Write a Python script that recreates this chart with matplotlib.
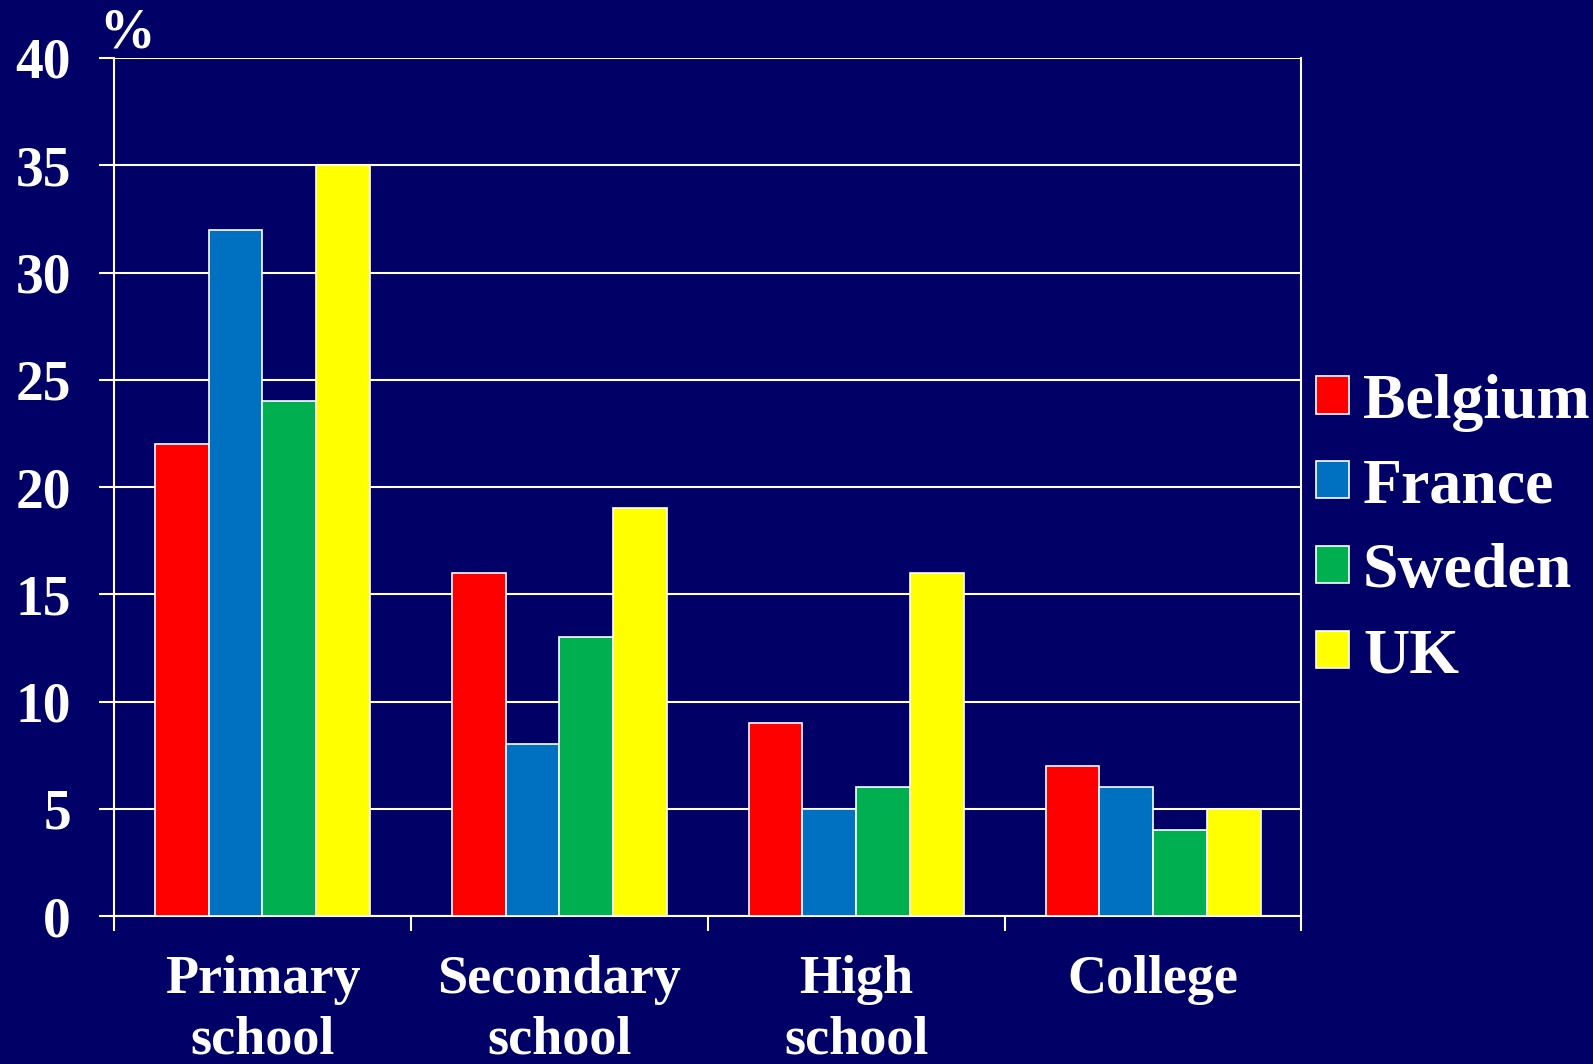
import matplotlib.pyplot as plt
import numpy as np

plt.rcParams['font.family'] = 'Liberation Serif'
plt.rcParams['font.weight'] = 'bold'

levels = ['Primary\nschool', 'Secondary\nschool', 'High\nschool', 'College']
countries = ['Belgium', 'France', 'Sweden', 'UK']
belgium = [22, 16, 9, 7]
france = [32, 8, 5, 6]
sweden = [24, 13, 6, 4]
uk = [35, 19, 16, 5]
colors = ['#FF0000', '#0070C0', '#00B050', '#FFFF00']

bg = '#000066'
fig = plt.figure(figsize=(15.93, 10.64), dpi=100, facecolor=bg)
ax = fig.add_axes([0.0716, 0.139, 0.7454, 0.8065], facecolor=bg)

x = np.arange(len(levels))
w = 0.181
for i, (vals, name) in enumerate(zip([belgium, france, sweden, uk], countries)):
    ax.bar(x + (i - 1.5) * w, vals, w, color=colors[i], edgecolor='white',
           linewidth=1.2, label=name, zorder=3)

ax.set_xlim(-0.5, 3.5)
ax.set_ylim(0, 40)
ax.set_yticks(range(0, 41, 5))
ax.yaxis.grid(True, color='white', linewidth=1.5, zorder=0)
ax.set_axisbelow(True)

# boundary ticks without labels, category names on minor ticks
ax.set_xticks(np.arange(-0.5, 4, 1))
ax.set_xticklabels([])
ax.set_xticks(x, minor=True)
ax.set_xticklabels(levels, minor=True, fontsize=39, color='white',
                   linespacing=1.27)
ax.tick_params(axis='x', which='minor', length=0, pad=28)
ax.tick_params(axis='x', which='major', length=11, width=1.5, color='white')
ax.tick_params(axis='y', length=11, width=1.5, color='white', pad=20,
               labelsize=40, labelcolor='white')

for side in ['left', 'right', 'bottom']:
    ax.spines[side].set_color('white')
    ax.spines[side].set_linewidth(1.5)
ax.spines['top'].set_visible(False)

fig.text(0.062, 0.944, '%', fontsize=40, color='white', ha='left', va='bottom')

leg = ax.legend(loc='center left', bbox_to_anchor=(0.826, 0.502),
                bbox_transform=fig.transFigure, frameon=False, fontsize=46,
                labelcolor='white', handlelength=0.52, handleheight=0.52,
                handletextpad=0.22, labelspacing=0.42, borderaxespad=0,
                borderpad=0)

plt.savefig('out.png', facecolor=bg)
